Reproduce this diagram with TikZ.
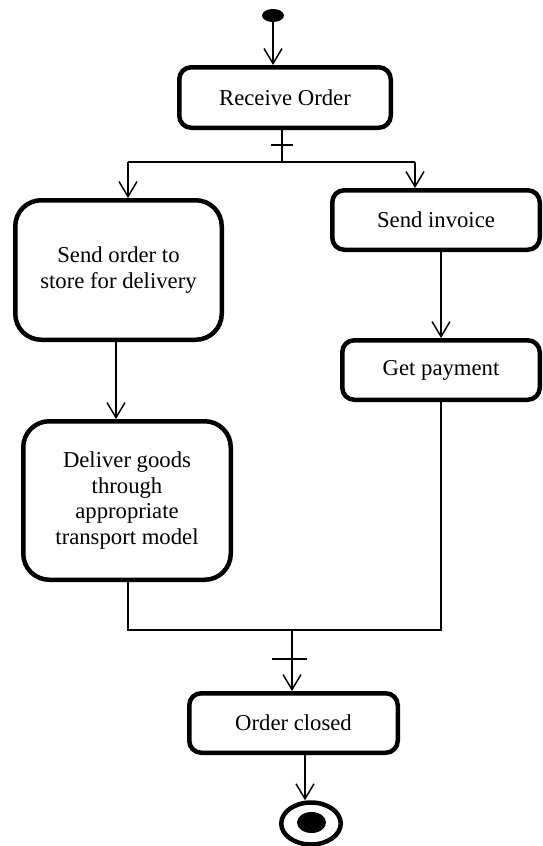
\documentclass[tikz,border=0pt]{standalone}
\usepackage{fontspec}
\setmainfont{Liberation Serif}
\usetikzlibrary{arrows.meta,shapes.geometric,calc}
\begin{document}
\begin{tikzpicture}[x=1pt,y=-1pt,
  act/.style={draw, line width=4.5pt, rounded corners=12pt, inner sep=0pt, align=center,
    font=\fontsize{22.7}{25.7}\selectfont},
  bigact/.style={act, rounded corners=26pt},
  conn/.style={line width=1.5pt},
  arr/.style={conn, -{Straight Barb[length=15pt,width=18pt]}}]
\useasboundingbox (0,0) rectangle (543,846);
\fill[white] (0,0) rectangle (543,846);

% start
\node[ellipse, fill=black, minimum width=22pt, minimum height=13pt, inner sep=0pt] (start) at (273,15.5) {};

% activities
\node[act, minimum width=211.5pt, minimum height=60.5pt] (recv) at (285,97.5) {Receive Order};
\node[bigact, minimum width=206.5pt, minimum height=139.5pt] (sendorder) at (118.5,270) {Send order to\\store for delivery};
\node[act, minimum width=207.5pt, minimum height=59.5pt] (invoice) at (436,220) {Send invoice};
\node[act, minimum width=197.5pt, minimum height=59.5pt] (payment) at (441,370) {Get payment};
\node[bigact, minimum width=207.5pt, minimum height=158.5pt] (deliver) at (127,500.5) {Deliver goods\\through\\appropriate\\transport model};
\node[act, minimum width=208.5pt, minimum height=59.5pt] (closed) at (293.5,723) {Order closed};

% end
\node[ellipse, draw, line width=4.5pt, minimum width=59.5pt, minimum height=42pt, inner sep=0pt] (end) at (311,823.5) {};
\node[ellipse, fill=black, minimum width=29pt, minimum height=21pt, inner sep=0pt] (endin) at (311.5,822.5) {};

% fork / join points
\coordinate (fork) at (282,162);
\coordinate (join) at (292,630);
\coordinate (forkL) at (128,162);
\coordinate (forkR) at (415,162);
\coordinate (joinL) at (128,630);
\coordinate (joinR) at (441,630);

% connectors
\draw[arr] (start) -- (start |- recv.north);
\draw[conn] (recv.south -| fork) -- (fork);
\draw[conn] ($(fork)+(-11,-17)$) -- ($(fork)+(11,-17)$);
\draw[conn] (forkL) -- (forkR);
\draw[arr] (forkL) -- (forkL |- sendorder.north);
\draw[arr] (forkR) -- (forkR |- invoice.north);
\draw[arr] (sendorder.south -| 116,0) -- (deliver.north -| 116,0);
\draw[arr] (invoice.south -| 441,0) -- (payment.north -| 441,0);
\draw[conn] (deliver.south -| joinL) -- (joinL) -- (joinR) -- (payment.south -| joinR);
\draw[arr] (join) -- (closed.north -| join);
\draw[conn] ($(join)+(-20,29)$) -- ($(join)+(15,29)$);
\draw[arr] (closed.south -| 305,0) -- (end.north -| 305,0);
\end{tikzpicture}
\end{document}
